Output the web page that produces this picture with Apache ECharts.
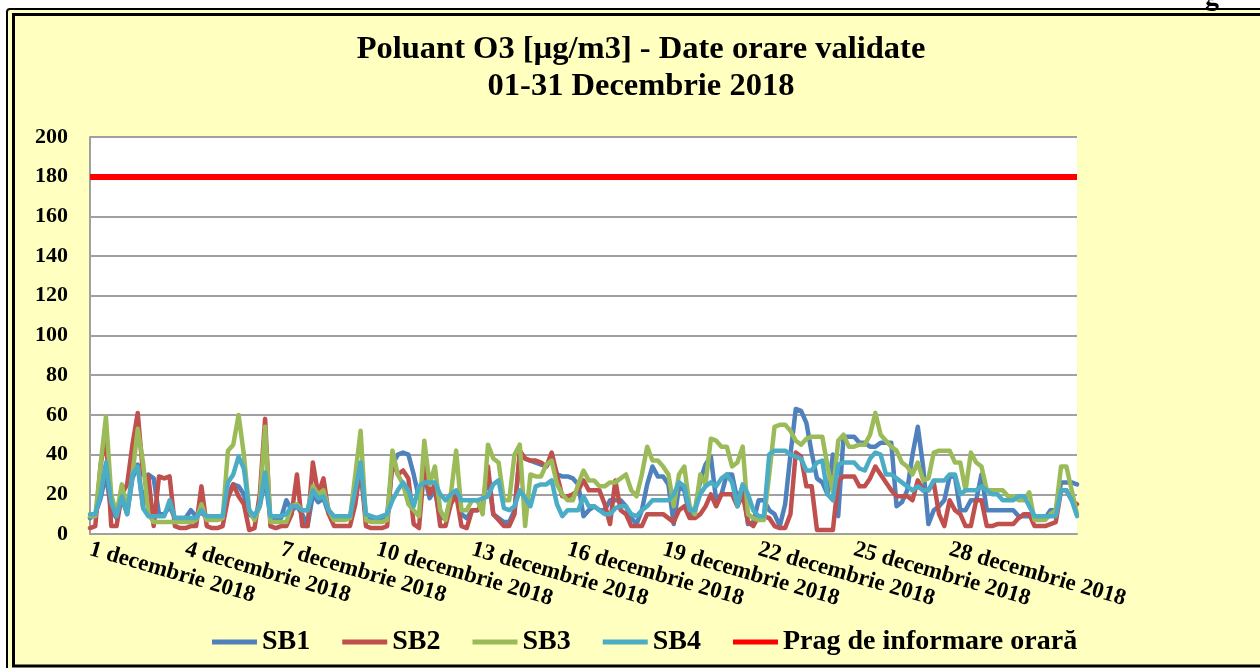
<!DOCTYPE html>
<html>
<head>
<meta charset="utf-8">
<script src="https://cdn.jsdelivr.net/npm/echarts@6/dist/echarts.min.js"></script>
<style>
html,body{margin:0;padding:0;background:#fff;}
#c{width:1260px;height:668px;}
</style>
</head>
<body>
<div id="c"></div>
<script>
// 31 days, one reading every 4 hours (6 per day) + final point
const hours = [0, 4, 8, 12, 16, 20];
const dayCount = 31;
const yTicks = [0, 20, 40, 60, 80, 100, 120, 140, 160, 180, 200];
const pragValue = 180;

const sb1 = [
 8,10,18,30,12,8,  18,10,28,35,14,30,  28,10,10,14,8,8,  8,12,9,11,8,8,  8,9,20,25,24,20,
 10,8,14,28,8,8,  8,17,12,14,10,4,  20,16,18,10,8,8,  8,8,20,32,8,8,  8,8,10,35,40,41,
 40,30,18,30,18,22,  8,8,18,20,10,8,  12,12,14,30,10,8,  6,6,12,40,38,37,  36,35,34,38,30,29,
 29,28,25,9,12,14,  12,12,17,17,17,14,  8,5,12,25,34,29,  29,25,5,24,22,9,  12,27,35,39,17,20,
 30,30,17,24,5,6,  17,17,12,10,4,15,  40,63,62,56,41,28,  26,20,40,9,49,49,  49,46,46,44,44,46,
 46,46,14,16,22,40,  54,34,5,12,14,17,  29,29,12,12,17,17,  30,12,12,12,12,12,  12,9,9,9,8,8,
 8,12,12,26,26,26,  25
];
const sb2 = [
 3,4,35,50,4,4,  20,25,45,61,30,29,  4,29,28,29,4,3,  3,4,4,24,4,3,  3,4,18,25,19,15,
 2,3,20,58,4,3,  4,4,10,30,4,4,  36,20,28,10,4,4,  4,4,15,34,4,3,  3,3,4,37,30,32,
 28,5,3,34,20,25,  4,4,15,20,4,3,  12,12,15,34,10,7,  4,4,10,42,38,37,  37,36,34,41,30,19,
 19,20,22,27,22,22,  22,15,5,27,12,10,  4,4,4,10,10,10,  10,8,6,12,14,8,  8,10,14,20,14,20,
 20,20,14,20,6,4,  9,9,8,4,3,3,  10,41,39,24,24,2,  2,2,2,27,29,29,  29,24,24,28,34,30,
 26,22,19,19,19,17,  27,22,22,26,10,4,  17,12,10,4,4,17,  17,4,4,5,5,5,  5,8,10,10,4,4,
 4,5,6,22,22,17,  15
];
const sb3 = [
 9,9,35,59,20,10,  25,12,30,53,36,10,  6,6,6,6,6,6,  6,6,7,15,7,7,  7,8,42,45,60,40,
 12,7,15,54,6,6,  6,6,14,15,12,12,  24,20,22,12,7,7,  7,8,30,52,7,6,  6,6,7,42,30,25,
 15,12,9,47,25,34,  12,7,20,42,12,12,  17,17,10,45,38,36,  17,17,40,45,4,30,  29,29,35,37,25,20,
 17,17,25,32,27,27,  24,24,26,26,28,30,  22,19,30,44,37,37,  34,30,14,30,34,14,  10,30,25,48,47,44,
 44,34,36,44,10,8,  7,7,30,54,55,55,  52,47,45,48,49,49,  49,34,21,47,50,44,  44,45,45,50,61,50,
 47,44,42,36,34,30,  36,27,28,41,42,42,  42,36,36,22,41,36,  34,22,22,22,22,19,  19,17,17,21,7,7,
 7,10,12,34,34,22,  10
];
const sb4 = [
 10,10,20,36,16,9,  19,10,30,34,13,9,  9,9,9,17,8,8,  8,8,8,12,9,9,  9,9,26,30,39,33,
 12,9,15,31,9,9,  9,10,14,14,12,12,  22,18,19,12,9,9,  9,9,22,36,10,9,  8,9,10,17,22,26,
 22,14,24,26,26,26,  20,17,20,22,17,17,  17,17,18,19,25,27,  13,12,14,22,18,14,  24,25,25,27,15,9,
 12,12,12,19,14,14,  12,10,10,13,14,14,  10,9,12,14,17,17,  17,17,20,26,24,12,  12,20,24,26,24,28,
 30,26,14,25,20,12,  9,9,40,42,42,42,  40,39,38,32,32,36,  37,20,17,35,36,36,  36,33,32,38,41,40,
 30,30,28,26,24,22,  24,22,22,27,27,27,  30,30,20,22,22,22,  24,22,20,20,17,17,  17,19,19,14,9,9,
 9,9,9,22,22,17,  9
];

const categories = [];
for (let d = 1; d <= dayCount; d++) {
  hours.forEach(h => categories.push(d + ' decembrie 2018 ' + h + ':00'));
}
categories.push('1 ianuarie 2019 0:00');

const FONT = '"Liberation Serif", "Times New Roman", serif';
const chart = echarts.init(document.getElementById('c'), null, {renderer: 'canvas'});

const lineSeries = (name, data, color) => ({
  name, type: 'line', data, symbol: 'none', showSymbol: false,
  lineStyle: {color, width: 4.5, join: 'round', cap: 'round'},
  itemStyle: {color}, animation: false
});

chart.setOption({
  backgroundColor: '#ffffff',
  animation: false,
  graphic: [
    {type: 'rect', z: -10, shape: {x: 7, y: 9, width: 1300, height: 700, r: 3},
     style: {fill: '#FFFFC0', stroke: '#000', lineWidth: 2}},
    {type: 'rect', z: -9, shape: {x: 13.5, y: 14.5, width: 1300, height: 651.5},
     style: {fill: '#FFFFC0', stroke: '#000', lineWidth: 3}},
    {type: 'text', z: 10, x: 1205, y: -16,
     style: {text: 'g', font: 'bold 28px ' + FONT, fill: '#000', verticalAlign: 'top'}},
    {type: 'text', z: 10, x: 641, y: 50,
     style: {text: 'Poluant O3 [µg/m3] - Date orare validate', font: 'bold 32.5px ' + FONT,
             fill: '#000', align: 'center', verticalAlign: 'middle'}},
    {type: 'text', z: 10, x: 641, y: 87,
     style: {text: '01-31 Decembrie 2018', font: 'bold 32.5px ' + FONT,
             fill: '#000', align: 'center', verticalAlign: 'middle'}}
  ],
  grid: {left: 90, right: 183, top: 137, bottom: 134, show: true,
         backgroundColor: '#ffffff', borderWidth: 0, containLabel: false},
  legend: {
    left: 207, top: 623, itemWidth: 45, itemHeight: 5, itemGap: 32,
    icon: 'rect',
    textStyle: {fontFamily: FONT, fontWeight: 'bold', fontSize: 28, color: '#000'},
    data: ['SB1', 'SB2', 'SB3', 'SB4', 'Prag de informare orară']
  },
  xAxis: {
    type: 'category', data: categories, boundaryGap: false,
    axisLine: {show: true, lineStyle: {color: '#A0A0A0', width: 2}},
    axisTick: {show: false},
    splitLine: {show: false},
    axisLabel: {
      interval: (i) => i % 18 === 0 && i < 180,
      rotate: -16, margin: 15, color: '#000',
      fontFamily: FONT, fontWeight: 'bold', fontSize: 23,
      formatter: (v) => v.split(' ').slice(0, 3).join(' ')
    }
  },
  yAxis: {
    type: 'value', min: yTicks[0], max: yTicks[yTicks.length - 1], interval: 20,
    axisLine: {show: true, lineStyle: {color: '#A0A0A0', width: 2}},
    axisTick: {show: false},
    splitLine: {show: true, lineStyle: {color: '#A0A0A0', width: 2}},
    axisLabel: {margin: 22, color: '#000', fontFamily: FONT, fontWeight: 'bold', fontSize: 22}
  },
  series: [
    lineSeries('SB1', sb1, '#4F81BD'),
    lineSeries('SB2', sb2, '#C0504D'),
    lineSeries('SB3', sb3, '#9BBB59'),
    lineSeries('SB4', sb4, '#4BACC6'),
    {
      name: 'Prag de informare orară', type: 'line', data: [], symbol: 'none',
      itemStyle: {color: '#FF0000'}, lineStyle: {color: '#FF0000', width: 6},
      markLine: {
        silent: true, symbol: ['none', 'none'], label: {show: false},
        lineStyle: {color: '#FF0000', width: 6, type: 'solid'},
        data: [{yAxis: pragValue}]
      },
      z: 5
    }
  ]
});
</script>
</body>
</html>
